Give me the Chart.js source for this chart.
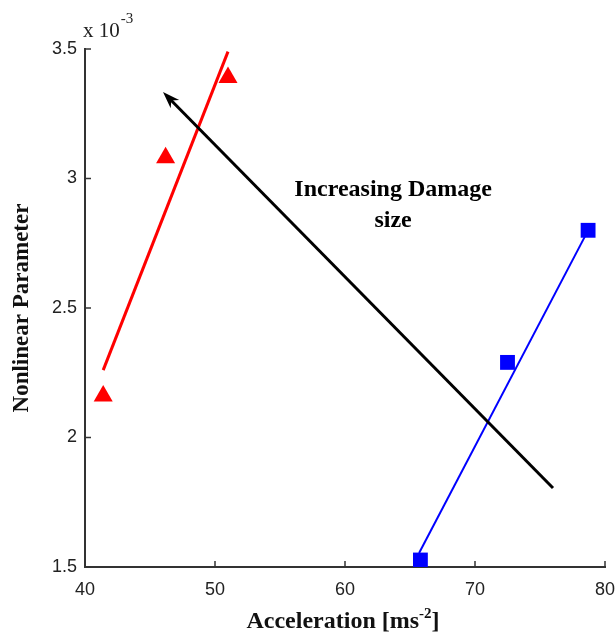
<!DOCTYPE html>
<html>
<head>
<meta charset="utf-8">
<script src="https://cdn.jsdelivr.net/npm/chart.js@4"></script>
<style>
  html, body { margin: 0; padding: 0; background: #fff; }
  #wrap { width: 616px; height: 637px; }
</style>
</head>
<body>
<div id="wrap"><canvas id="chart" width="616" height="637"></canvas></div>
<script>
// Values (y in units of 1e-3)
const redAccel = [41.4, 46.2, 51.0];
const redNonlin = [2.16, 3.08, 3.39];
const redFitAccel = [41.4, 51.0];
const redFitNonlin = [2.26, 3.49];

const blueAccel = [65.8, 72.5, 78.7];
const blueNonlin = [1.527, 2.29, 2.80];
const blueFitAccel = [65.7, 78.6];
const blueFitNonlin = [1.554, 2.79];

const arrowAccel = [76.0, 46.0];   // tail, head
const arrowNonlin = [1.805, 3.334];

const noteLines = ['Increasing Damage', 'size'];
const noteAccel = [63.7, 63.7];
const noteNonlin = [2.956, 2.836];

const xTicks = [40, 50, 60, 70, 80];
const yTicks = [1.5, 2, 2.5, 3, 3.5];

function pts(xs, ys) {
    return xs.map((x, i) => ({ x: x, y: ys[i] }));
}

// Inward ticks, arrow, note, exponent label and x title
const extras = {
    id: 'extras',
    afterDatasetsDraw(chart) {
        const ctx = chart.ctx;
        const xs = chart.scales.x;
        const ys = chart.scales.y;
        const area = chart.chartArea;
        ctx.save();

        // ticks pointing inside
        ctx.strokeStyle = '#333';
        ctx.lineWidth = 1.5;
        xTicks.forEach(v => {
            const px = xs.getPixelForValue(v);
            ctx.beginPath();
            ctx.moveTo(px, area.bottom);
            ctx.lineTo(px, area.bottom - 6);
            ctx.stroke();
        });
        yTicks.forEach(v => {
            const py = ys.getPixelForValue(v);
            ctx.beginPath();
            ctx.moveTo(area.left, py);
            ctx.lineTo(area.left + 6, py);
            ctx.stroke();
        });

        // arrow
        const x0 = xs.getPixelForValue(arrowAccel[0]);
        const y0 = ys.getPixelForValue(arrowNonlin[0]);
        const x1 = xs.getPixelForValue(arrowAccel[1]);
        const y1 = ys.getPixelForValue(arrowNonlin[1]);
        const ang = Math.atan2(y1 - y0, x1 - x0);
        const headLen = 17, headW = 6;
        ctx.strokeStyle = '#000';
        ctx.fillStyle = '#000';
        ctx.lineWidth = 3;
        ctx.beginPath();
        ctx.moveTo(x0, y0);
        ctx.lineTo(x1 - Math.cos(ang) * 8, y1 - Math.sin(ang) * 8);
        ctx.stroke();
        ctx.beginPath();
        ctx.moveTo(x1, y1);
        ctx.lineTo(x1 - headLen * Math.cos(ang) + headW * Math.sin(ang),
                   y1 - headLen * Math.sin(ang) - headW * Math.cos(ang));
        ctx.lineTo(x1 - headLen * 0.7 * Math.cos(ang), y1 - headLen * 0.7 * Math.sin(ang));
        ctx.lineTo(x1 - headLen * Math.cos(ang) - headW * Math.sin(ang),
                   y1 - headLen * Math.sin(ang) + headW * Math.cos(ang));
        ctx.closePath();
        ctx.fill();

        // note
        ctx.font = 'bold 24px "Liberation Serif", serif';
        ctx.textAlign = 'center';
        ctx.textBaseline = 'middle';
        noteLines.forEach((t, i) => {
            ctx.fillText(t, xs.getPixelForValue(noteAccel[i]), ys.getPixelForValue(noteNonlin[i]));
        });

        // exponent label
        ctx.fillStyle = '#222';
        ctx.textAlign = 'left';
        ctx.textBaseline = 'alphabetic';
        ctx.font = '21px "Liberation Serif", serif';
        ctx.fillText('x 10', area.left - 2, area.top - 12);
        const w = ctx.measureText('x 10').width;
        ctx.font = '15px "Liberation Serif", serif';
        ctx.fillText('-3', area.left - 1 + w, area.top - 26);

        // x title with superscript
        const cx = (area.left + area.right) / 2 - 2;
        const ty = 628;
        ctx.fillStyle = '#111';
        const a = 'Acceleration [ms';
        const b = ']';
        ctx.font = 'bold 15px "Liberation Serif", serif';
        const ws = ctx.measureText('-2').width;
        ctx.font = 'bold 24px "Liberation Serif", serif';
        const wa = ctx.measureText(a).width;
        const wb = ctx.measureText(b).width;
        const sx = cx - (wa + ws + wb) / 2;
        ctx.fillText(a, sx, ty);
        ctx.font = 'bold 15px "Liberation Serif", serif';
        ctx.fillText('-2', sx + wa, ty - 10);
        ctx.font = 'bold 24px "Liberation Serif", serif';
        ctx.fillText(b, sx + wa + ws, ty);
        ctx.restore();
    }
};

new Chart(document.getElementById('chart'), {
    type: 'scatter',
    data: {
        datasets: [
            {
                data: pts(redFitAccel, redFitNonlin),
                showLine: true,
                borderColor: '#ff0000',
                borderWidth: 3,
                pointRadius: 0
            },
            {
                data: pts(redAccel, redNonlin),
                pointStyle: 'triangle',
                pointRadius: 11,
                backgroundColor: '#ff0000',
                borderColor: '#ff0000',
                borderWidth: 0
            },
            {
                data: pts(blueFitAccel, blueFitNonlin),
                showLine: true,
                borderColor: '#0000ff',
                borderWidth: 2,
                pointRadius: 0
            },
            {
                data: pts(blueAccel, blueNonlin),
                pointStyle: 'rect',
                pointRadius: 10.5,
                backgroundColor: '#0000ff',
                borderColor: '#0000ff',
                borderWidth: 0
            }
        ]
    },
    options: {
        responsive: false,
        animation: false,
        layout: { padding: { top: 49, right: 11, left: 0, bottom: 0 } },
        plugins: {
            legend: { display: false },
            tooltip: { enabled: false }
        },
        scales: {
            x: {
                type: 'linear',
                min: 40,
                max: 80,
                afterBuildTicks: axis => { axis.ticks = xTicks.map(v => ({ value: v })); },
                afterFit: axis => {
                    axis.height = 70;
                    axis.paddingLeft = 0;
                    axis.paddingRight = 0;
                },
                grid: { drawOnChartArea: false, drawTicks: false },
                border: { display: true, color: '#333', width: 2 },
                ticks: {
                    padding: 12,
                    color: '#222',
                    font: { family: '"Liberation Sans", sans-serif', size: 18 },
                    callback: v => String(v)
                }
            },
            y: {
                type: 'linear',
                min: 1.5,
                max: 3.5,
                afterBuildTicks: axis => { axis.ticks = yTicks.map(v => ({ value: v })); },
                afterFit: axis => {
                    axis.width = 85;
                    axis.paddingTop = 0;
                    axis.paddingBottom = 0;
                },
                grid: { drawOnChartArea: false, drawTicks: false },
                border: { display: true, color: '#333', width: 2 },
                ticks: {
                    padding: 8,
                    color: '#222',
                    font: { family: '"Liberation Sans", sans-serif', size: 18 },
                    callback: v => String(v)
                },
                title: {
                    display: true,
                    text: 'Nonlinear Parameter',
                    color: '#111',
                    font: { family: '"Liberation Serif", serif', size: 23, weight: 'bold' },
                    padding: { top: 8, bottom: 0 }
                }
            }
        }
    },
    plugins: [extras]
});
</script>
</body>
</html>
